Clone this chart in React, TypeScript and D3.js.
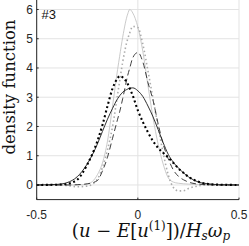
import React, { useRef, useEffect } from "react";
import * as d3 from "d3";

// shared abscissa for all curves
const xs = [
  -0.5, -0.4, -0.35, -0.3, -0.25, -0.2, -0.175, -0.15, -0.125, -0.1, -0.09, -0.075, -0.05, -0.04,
  -0.025, 0, 0.025, 0.05, 0.075, 0.1, 0.125, 0.15, 0.175, 0.2, 0.225, 0.25, 0.3, 0.35, 0.4, 0.5,
];

const graySolid = [
  0, 0, 0, 0, 0.03, 0.35, 0.75, 1.5, 2.7, 3.95, 4.4, 5.05, 5.85, 6.0,
  5.88, 5.4, 4.55, 3.4, 2.3, 1.4, 0.72, 0.25, 0.1, 0.06, 0.04, 0.03, 0.01, 0, 0, 0,
];
const grayDotted = [
  0, 0, -0.02, -0.06, -0.04, 0.2, 0.6, 1.2, 2.0, 3.1, 3.55, 4.2, 5.0, 5.2,
  5.42, 5.38, 4.8, 3.9, 2.95, 2.0, 1.1, 0.35, -0.08, -0.2, -0.2, -0.12, -0.03, 0, 0, 0,
];
const blackDashed = [
  0, 0, 0, 0.01, 0.04, 0.15, 0.48, 0.95, 1.6, 2.25, 2.5, 2.95, 3.75, 4.0,
  4.35, 4.53, 4.2, 3.5, 2.9, 2.1, 1.4, 0.9, 0.52, 0.3, 0.18, 0.1, 0.03, 0.01, 0, 0,
];
const blackDotted = [
  0, 0.01, 0.04, 0.18, 0.7, 1.5, 2.05, 2.7, 3.3, 3.65, 3.72, 3.68, 3.45, 3.3,
  3.05, 2.55, 2.15, 1.8, 1.5, 1.27, 1.1, 0.94, 0.76, 0.57, 0.42, 0.28, 0.11, 0.03, 0.01, 0,
];
const blackSolid = [
  0, 0.02, 0.08, 0.28, 0.72, 1.4, 1.83, 2.25, 2.62, 2.95, 3.05, 3.17, 3.28, 3.31,
  3.32, 3.22, 3.02, 2.7, 2.33, 1.9, 1.45, 1.05, 0.78, 0.58, 0.42, 0.28, 0.1, 0.04, 0.01, 0,
];

const xTicks = [-0.5, 0, 0.5];
const yTicks = [0, 1, 2, 3, 4, 5, 6];

const App = () => {
  const svgRef = useRef(null);

  useEffect(() => {
    const width = 249;
    const height = 246;
    const svg = d3.select(svgRef.current).attr("width", width).attr("height", height);
    svg.selectAll("*").remove();

    const x = d3.scaleLinear().domain([-0.5, 0.5]).range([36.7, 239]);
    const y = d3.scaleLinear().domain([-0.5, 6.3]).range([199.6, 0.7]);

    const axisColor = "#262626";
    const gridColor = "#e3e3e3";

    // grid
    svg
      .append("g")
      .selectAll("line")
      .data(yTicks)
      .enter()
      .append("line")
      .attr("x1", x(-0.5))
      .attr("x2", x(0.5))
      .attr("y1", (d) => y(d))
      .attr("y2", (d) => y(d))
      .attr("stroke", gridColor)
      .attr("stroke-width", 1);
    svg
      .append("g")
      .selectAll("line")
      .data(xTicks)
      .enter()
      .append("line")
      .attr("x1", (d) => x(d))
      .attr("x2", (d) => x(d))
      .attr("y1", 0)
      .attr("y2", y(-0.5))
      .attr("stroke", gridColor)
      .attr("stroke-width", 1);

    // curves
    const series = [
      { v: graySolid, color: "#c4c4c4", w: 0.9, dash: null },
      { v: grayDotted, color: "#ababab", w: 1.6, dash: "1.5,2.6" },
      { v: blackSolid, color: "#1a1a1a", w: 0.9, dash: null },
      { v: blackDashed, color: "#2a2a2a", w: 0.9, dash: "6,3.5" },
      { v: blackDotted, color: "#000", w: 2.1, dash: "2,2.6" },
    ];
    const line = d3
      .line<number>()
      .x((_, i) => x(xs[i]))
      .y((d) => y(d))
      .curve(d3.curveMonotoneX);

    series.forEach((s) => {
      const p = svg
        .append("path")
        .attr("d", line(s.v))
        .attr("fill", "none")
        .attr("stroke", s.color)
        .attr("stroke-width", s.w);
      if (s.dash) p.attr("stroke-dasharray", s.dash);
    });

    // axes
    svg
      .append("line")
      .attr("x1", x(-0.5))
      .attr("x2", x(-0.5))
      .attr("y1", 0)
      .attr("y2", y(-0.5))
      .attr("stroke", axisColor)
      .attr("stroke-width", 1);
    svg
      .append("line")
      .attr("x1", x(-0.5))
      .attr("x2", x(0.5))
      .attr("y1", y(-0.5))
      .attr("y2", y(-0.5))
      .attr("stroke", axisColor)
      .attr("stroke-width", 1);

    // ticks (inward)
    svg
      .append("g")
      .selectAll("line")
      .data(yTicks)
      .enter()
      .append("line")
      .attr("x1", x(-0.5))
      .attr("x2", x(-0.5) + 2)
      .attr("y1", (d) => y(d))
      .attr("y2", (d) => y(d))
      .attr("stroke", axisColor);
    svg
      .append("g")
      .selectAll("line")
      .data(xTicks)
      .enter()
      .append("line")
      .attr("x1", (d) => x(d))
      .attr("x2", (d) => x(d))
      .attr("y1", y(-0.5))
      .attr("y2", y(-0.5) - 2)
      .attr("stroke", axisColor);

    // tick labels
    svg
      .append("g")
      .selectAll("text")
      .data(yTicks)
      .enter()
      .append("text")
      .attr("x", 33)
      .attr("y", (d) => y(d) + 4.3)
      .attr("text-anchor", "end")
      .attr("font-family", "Liberation Sans, Arial, sans-serif")
      .attr("font-size", 12)
      .attr("fill", axisColor)
      .text((d) => d);
    svg
      .append("g")
      .selectAll("text")
      .data(xTicks)
      .enter()
      .append("text")
      .attr("x", (d) => x(d))
      .attr("y", 218.5)
      .attr("text-anchor", "middle")
      .attr("font-family", "Liberation Sans, Arial, sans-serif")
      .attr("font-size", 12)
      .attr("fill", axisColor)
      .text((d) => d);

    // panel tag
    svg
      .append("text")
      .attr("x", 41.5)
      .attr("y", 18.5)
      .attr("font-family", "Liberation Sans, Arial, sans-serif")
      .attr("font-size", 13)
      .attr("fill", "#111")
      .text("#3");

    // y label
    svg
      .append("text")
      .attr("transform", "translate(14.5,87) rotate(-90)")
      .attr("text-anchor", "middle")
      .attr("font-family", "DejaVu Serif, serif")
      .attr("font-size", 16.5)
      .attr("fill", "#111")
      .text("density function");

    // x label
    const xl = svg
      .append("text")
      .attr("x", 151)
      .attr("y", 236.5)
      .attr("text-anchor", "middle")
      .attr("font-family", "DejaVu Serif, serif")
      .attr("font-size", 18)
      .attr("fill", "#111");
    const parts = [
      { t: "(", it: false },
      { t: "u", it: true },
      { t: " − ", it: false },
      { t: "E", it: true },
      { t: "[", it: false },
      { t: "u", it: true },
      { t: "(1)", it: false, sup: true },
      { t: "])/", it: false, back: true },
      { t: "H", it: true },
      { t: "s", it: true, sub: true },
      { t: "ω", it: true, back2: true },
      { t: "p", it: true, sub: true },
    ];
    parts.forEach((p) => {
      const ts = xl.append("tspan").text(p.t);
      if (p.it) ts.attr("font-style", "italic");
      if (p.sup) ts.attr("font-size", 12).attr("dy", -7);
      if (p.back) ts.attr("dy", 7);
      if (p.sub) ts.attr("font-size", 12).attr("dy", 3);
      if (p.back2) ts.attr("dy", -3);
    });
  }, []);

  return (
    <svg
      ref={svgRef}
      style={{ position: "absolute", left: 0, top: 0, background: "#fff" }}
    ></svg>
  );
};

export default App;
